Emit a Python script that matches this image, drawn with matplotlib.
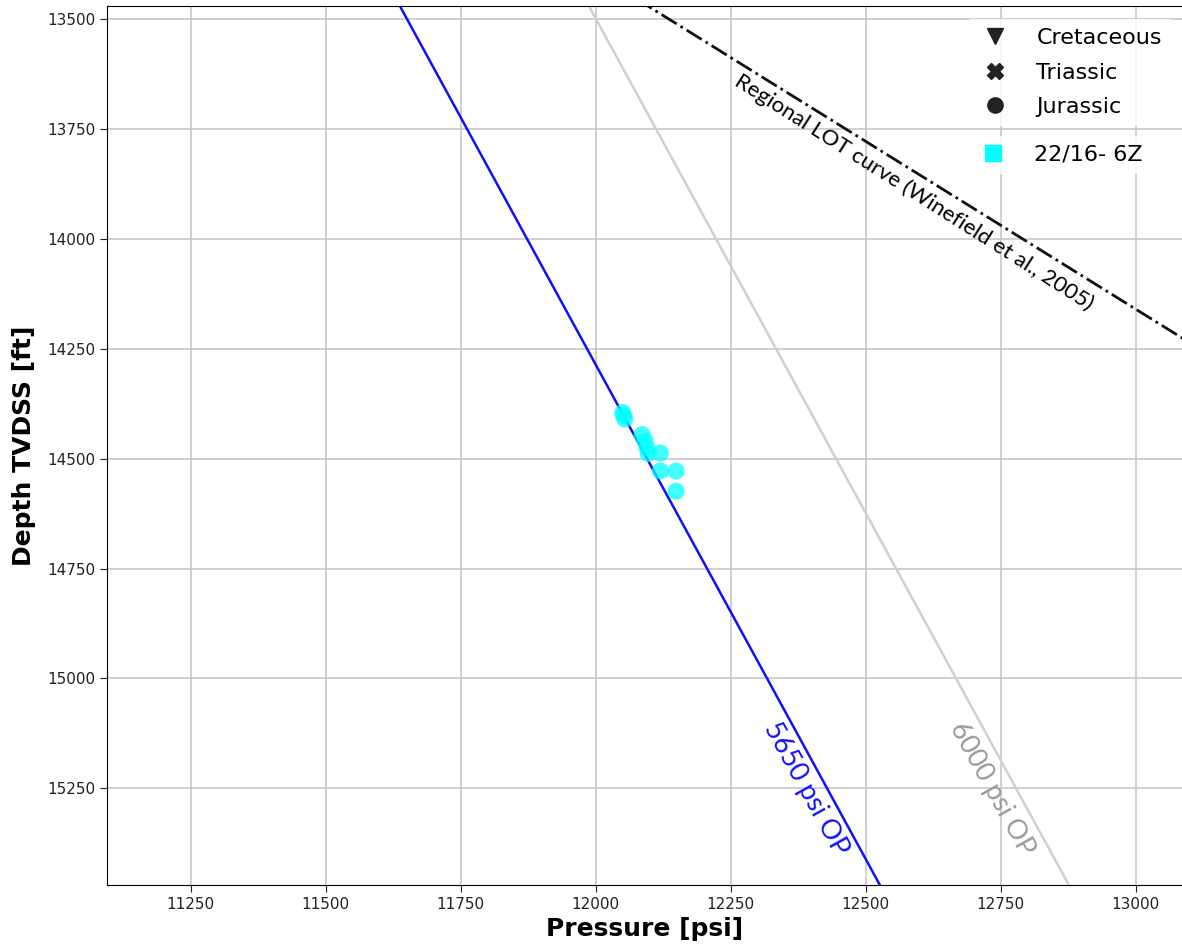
import numpy as np
import matplotlib
matplotlib.use("Agg")
import matplotlib.pyplot as plt
from matplotlib.lines import Line2D

# pressure data for well 22/16- 6Z
well_pressure = [12050, 12052, 12054, 12086, 12092, 12095, 12097, 12120, 12120, 12149, 12149]
well_depth = [14395, 14402, 14410, 14445, 14460, 14475, 14488, 14487, 14528, 14528, 14574]

# overpressure lines: OP + hydrostatic gradient * depth
op_values = [5650, 6000]
op_colors = ["#1010ff", "#d0d0d0"]
op_label_colors = ["#1010ff", "#9a9a9a"]
gradient = 0.4445  # psi/ft
line_depth = np.array([13400, 15550])

# regional leak-off trend
lot_depth = [13400, 14300]
lot_pressure = [12005, 13184]

xticks = [11250, 11500, 11750, 12000, 12250, 12500, 12750, 13000]
yticks = [13500, 13750, 14000, 14250, 14500, 14750, 15000, 15250]

fig = plt.figure(figsize=(11.82, 9.49), dpi=100)
ax = fig.add_axes([107 / 1182, 1 - 885 / 949, 1 - 107 / 1182, 879 / 949])

ax.grid(True, color="#c8c8c8", linewidth=1.2, zorder=0)
ax.set_axisbelow(True)

for op, c in zip(op_values, op_colors):
    ax.plot(op + gradient * line_depth, line_depth, color=c, lw=1.8, zorder=2)

ax.plot(lot_pressure, lot_depth, color="#111111", lw=2, linestyle="-.", zorder=2)

ax.scatter(well_pressure, well_depth, s=150, color="cyan", alpha=0.75,
           edgecolors="none", zorder=3)

ax.set_xlim(11095, 13086)
ax.set_ylim(15470, 13470)
ax.set_xticks(xticks)
ax.set_yticks(yticks)
ax.tick_params(labelsize=11, colors="#222222", length=5)
ax.spines["right"].set_visible(False)

ax.set_xlabel("Pressure [psi]", fontsize=18, fontweight="bold", labelpad=4)
ax.set_ylabel("Depth TVDSS [ft]", fontsize=18, fontweight="bold", labelpad=8)

# line annotations
ax.text(12590, 13895, "Regional LOT curve (Winefield et al., 2005)", family="Lato",
        fontsize=16, rotation=-32.5, ha="center", va="center", color="black")
ax.text(12390, 15252, "5650 psi OP", family="Lato", fontsize=19.5, rotation=-61,
        ha="center", va="center", color=op_label_colors[0])
ax.text(12734, 15252, "6000 psi OP", family="Lato", fontsize=19.5, rotation=-61,
        ha="center", va="center", color=op_label_colors[1])

# legends
age_handles = [
    Line2D([], [], marker="v", color="#222222", ls="none", markersize=11, label="Cretaceous"),
    Line2D([], [], marker="X", color="#222222", ls="none", markersize=11, label="Triassic"),
    Line2D([], [], marker="o", color="#222222", ls="none", markersize=11, label="Jurassic"),
]
leg1 = ax.legend(handles=age_handles, loc="upper left", bbox_to_anchor=(0.79, 1.0),
                 fontsize=16, frameon=True, framealpha=0.8, edgecolor="none",
                 fancybox=False, labelspacing=0.65, handlelength=1.5, handletextpad=1.1,
                 borderaxespad=0.6)
ax.add_artist(leg1)
well_handle = [Line2D([], [], marker="s", color="cyan", ls="none", markersize=11,
                      label="22/16- 6Z")]
ax.legend(handles=well_handle, loc="upper left", bbox_to_anchor=(0.79, 0.865),
          fontsize=16, frameon=True, framealpha=0.8, edgecolor="none",
          fancybox=False, handlelength=1.5, handletextpad=1.1)

fig.savefig("out.png", dpi=100)
